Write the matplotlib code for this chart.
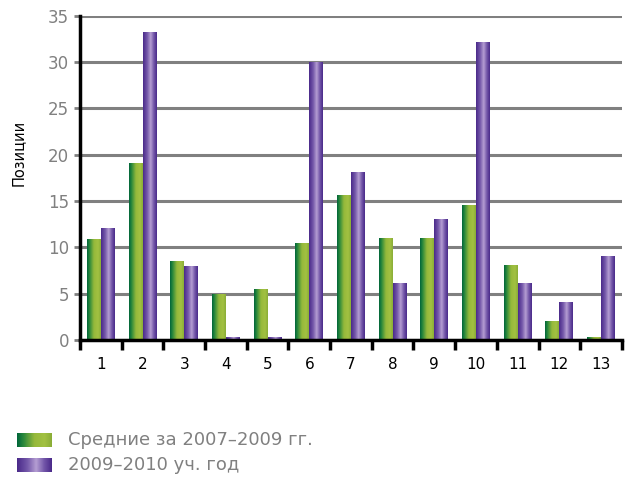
import numpy as np
import matplotlib
matplotlib.use('Agg')
import matplotlib.pyplot as plt
from matplotlib.colors import LinearSegmentedColormap

# Позиции по 13 пунктам
categories = [str(i) for i in range(1, 14)]
avg_2007_2009 = [10.9, 19.1, 8.5, 5.0, 5.5, 10.5, 15.7, 11.0, 11.0, 14.6, 8.1, 2.1, 0.3]
year_2009_2010 = [12.1, 33.3, 8.0, 0.3, 0.3, 30.0, 18.1, 6.2, 13.1, 32.2, 6.2, 4.1, 9.1]
series_labels = ['Средние за 2007–2009 гг.', '2009–2010 уч. год']
y_ticks = [0, 5, 10, 15, 20, 25, 30, 35]

GREEN = LinearSegmentedColormap.from_list('green', [
    (0.0, '#00663a'), (0.18, '#2a883c'), (0.5, '#96b93b'),
    (0.8, '#a2c142'), (1.0, '#8aad37')])
PURPLE = LinearSegmentedColormap.from_list('purple', [
    (0.0, '#4a2a8a'), (0.3, '#7559aa'), (0.55, '#b59ed3'),
    (0.78, '#7457a9'), (1.0, '#4a2a8a')])
GRAD = np.linspace(0, 1, 64).reshape(1, -1)

plt.rcParams['font.family'] = ['DejaVu Sans']

fig = plt.figure(figsize=(6.25, 4.79), dpi=100)
ax = fig.add_axes([0.128, 0.290, 0.867, 0.677])

x = np.arange(len(categories))
w = 0.335


def gradient_bars(xpos, vals, cmap):
    bars = ax.bar(xpos, vals, width=w, facecolor='none', edgecolor='none', zorder=3)
    for b in bars:
        x0, y0 = b.get_x(), b.get_y()
        im = ax.imshow(GRAD, cmap=cmap, aspect='auto', interpolation='bilinear',
                       extent=[x0, x0 + b.get_width(), y0, y0 + b.get_height()],
                       zorder=3)
        im.set_clip_path(b)


gradient_bars(x - w / 2, avg_2007_2009, GREEN)
gradient_bars(x + w / 2, year_2009_2010, PURPLE)

ax.set_xlim(-0.5, len(categories) - 0.5)
ax.set_ylim(0, 35)
ax.set_yticks(y_ticks)
ax.set_yticklabels([str(t) for t in y_ticks], color='#808080', fontsize=12)
ax.tick_params(axis='y', length=4, width=2, color='#808080', pad=4)

# category labels centred, tick marks at the boundaries
ax.set_xticks(x)
ax.set_xticklabels(categories, fontsize=11)
ax.tick_params(axis='x', which='major', length=0, pad=12)
ax.set_xticks(np.arange(len(categories) + 1) - 0.5, minor=True)
ax.tick_params(axis='x', which='minor', length=7, width=2.5, color='black', direction='out')

ax.grid(axis='y', color='#808080', linewidth=2.2, zorder=1)
ax.set_axisbelow(True)
for side in ['top', 'right']:
    ax.spines[side].set_visible(False)
for side in ['left', 'bottom']:
    ax.spines[side].set_linewidth(2.5)
    ax.spines[side].set_zorder(4)

fig.text(0.03, 0.68, 'Позиции', rotation=90, ha='center', va='center', fontsize=10.5)

# legend with gradient swatches
for i, (label, cmap) in enumerate(zip(series_labels, [GREEN, PURPLE])):
    top = 433 + i * 25
    sw = fig.add_axes([17 / 625, 1 - (top + 14) / 479, 35 / 625, 14 / 479])
    sw.imshow(GRAD, cmap=cmap, aspect='auto', interpolation='bilinear')
    sw.axis('off')
    fig.text(68 / 625, 1 - (top + 7) / 479, label, color='#808080', fontsize=13, va='center')

fig.savefig('out.png', dpi=100)
plt.close()
